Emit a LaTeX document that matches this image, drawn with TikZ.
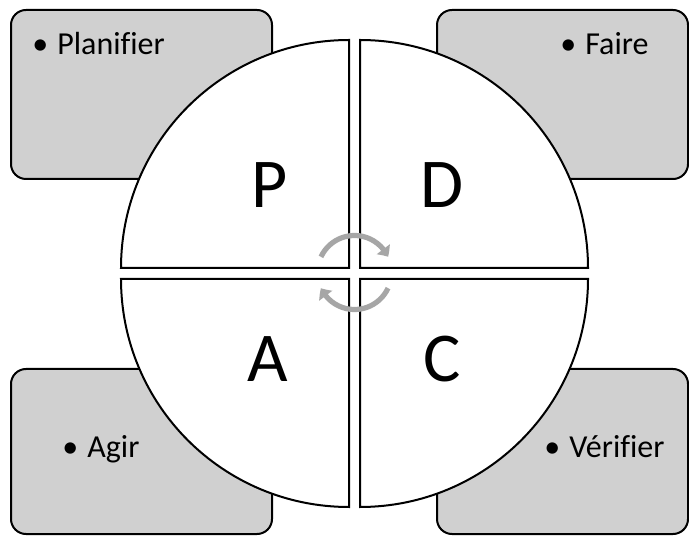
\documentclass[tikz,border=0pt]{standalone}
\usepackage{fontspec}
\setmainfont{Carlito}[Ligatures=NoCommon]
\usepackage{xcolor}
\definecolor{pdcagray}{RGB}{208,208,208}
\definecolor{pdcaarrow}{RGB}{166,166,166}
\usetikzlibrary{arrows.meta,bending}

\begin{document}
\begin{tikzpicture}[x=0.5pt,y=0.5pt,
  corner/.style={draw,rounded corners=7.5pt,fill=pdcagray,line width=1pt,inner sep=0pt},
  item/.style={anchor=base west,inner sep=0pt,font=\fontsize{16}{19}\selectfont},
  quarter/.style={draw,fill=white,line width=1pt},
  letter/.style={anchor=base,inner sep=0pt,font=\fontsize{35}{42}\selectfont},
  cyc/.style={pdcaarrow,line width=2.6pt,-{Triangle[length=4.5pt,width=8pt,bend]}}]
  \useasboundingbox (0,0) rectangle (689,535);
  % Corner boxes
  \node[corner,minimum width=130.5pt,minimum height=84.5pt] (boxP) at (141.5,440.5) {};
  \node[corner,minimum width=125.5pt,minimum height=84.5pt] (boxD) at (562.5,440.5) {};
  \node[corner,minimum width=130.5pt,minimum height=82.5pt] (boxA) at (141.5,83.5) {};
  \node[corner,minimum width=125.5pt,minimum height=82.5pt] (boxC) at (562.5,83.5) {};
  \node[item] (itemP) at (32,480) {•\hspace{4.5pt}Planifier};
  \node[item] (itemD) at (560,480) {•\hspace{4.5pt}Faire};
  \node[item] (itemA) at (62,78) {•\hspace{4.5pt}Agir};
  \node[item] (itemC) at (544,78) {•\hspace{4.5pt}Vérifier};
  % Quarters of the wheel
  \draw[quarter] (349,267) -- (121,267) arc[start angle=180,end angle=90,radius=228] -- cycle;
  \draw[quarter] (360,267) -- (360,495) arc[start angle=90,end angle=0,radius=228] -- cycle;
  \draw[quarter] (349,256) -- (349,28) arc[start angle=270,end angle=180,radius=228] -- cycle;
  \draw[quarter] (360,256) -- (588,256) arc[start angle=0,end angle=-90,radius=228] -- cycle;
  \node[letter] (P) at (270,327) {P};
  \node[letter] (D) at (442,327) {D};
  \node[letter] (A) at (268,154) {A};
  \node[letter] (C) at (442,154) {C};
  % Cycle arrows
  \coordinate (hub) at (354.5,262.5);
  \draw[cyc] (hub) ++(155:37) arc[start angle=155,end angle=25,radius=37];
  \draw[cyc] (hub) ++(-25:37) arc[start angle=-25,end angle=-155,radius=37];
\end{tikzpicture}
\end{document}
